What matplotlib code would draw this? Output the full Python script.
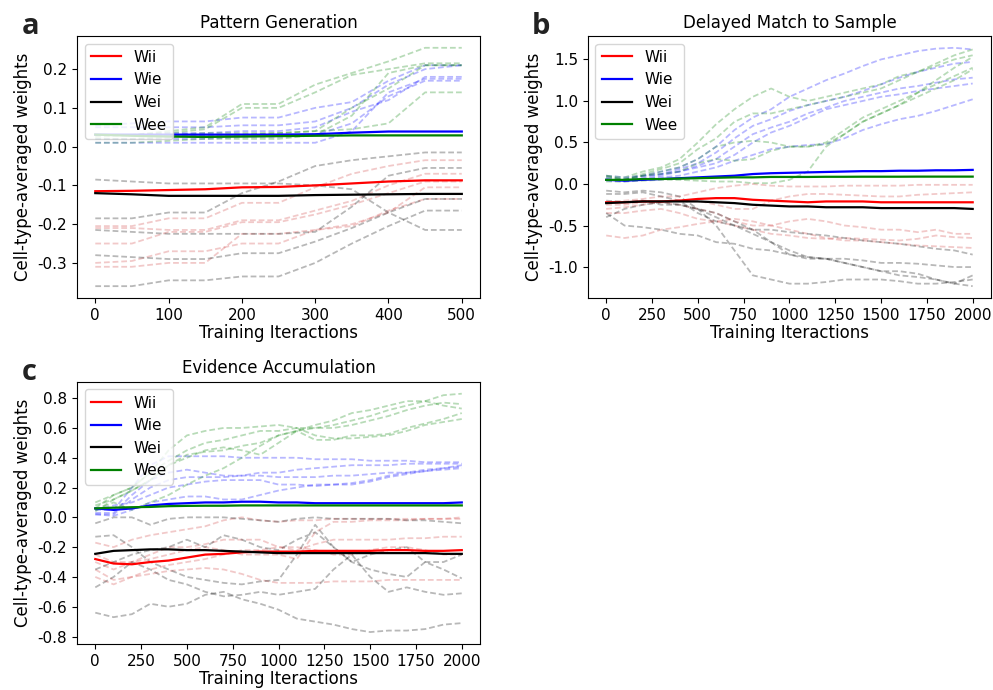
import numpy as np
import matplotlib
matplotlib.use("Agg")
import matplotlib.pyplot as plt

# ---------------- panel a: Pattern Generation ----------------
iters_a = [0, 50, 100, 150, 200, 250, 300, 350, 400, 450, 500]

wii_mean_a = [-0.115, -0.114, -0.112, -0.11, -0.105, -0.104, -0.1, -0.095, -0.09, -0.087, -0.087]
wie_mean_a = [0.031, 0.031, 0.031, 0.031, 0.031, 0.031, 0.032, 0.036, 0.039, 0.039, 0.039]
wei_mean_a = [-0.12, -0.123, -0.127, -0.127, -0.127, -0.127, -0.125, -0.124, -0.123, -0.122, -0.122]
wee_mean_a = [0.031, 0.028, 0.026, 0.025, 0.026, 0.027, 0.028, 0.029, 0.029, 0.029, 0.029]

wii_runs_a = [
    [-0.205, -0.205, -0.185, -0.185, -0.145, -0.145, -0.105, -0.07, -0.05, -0.035, -0.035],
    [-0.21, -0.21, -0.215, -0.215, -0.19, -0.19, -0.165, -0.14, -0.10, -0.07, -0.07],
    [-0.25, -0.25, -0.22, -0.22, -0.195, -0.195, -0.175, -0.15, -0.12, -0.09, -0.09],
    [-0.30, -0.295, -0.27, -0.27, -0.25, -0.25, -0.215, -0.20, -0.17, -0.105, -0.105],
    [-0.31, -0.31, -0.30, -0.30, -0.225, -0.225, -0.215, -0.205, -0.165, -0.135, -0.135],
]
wie_runs_a = [
    [0.055, 0.06, 0.065, 0.065, 0.075, 0.075, 0.10, 0.115, 0.17, 0.21, 0.21],
    [0.05, 0.05, 0.05, 0.05, 0.055, 0.055, 0.065, 0.10, 0.16, 0.20, 0.21],
    [0.03, 0.03, 0.035, 0.035, 0.04, 0.04, 0.05, 0.09, 0.12, 0.18, 0.18],
    [0.02, 0.02, 0.02, 0.02, 0.025, 0.025, 0.03, 0.06, 0.13, 0.17, 0.17],
    [0.01, 0.01, 0.01, 0.01, 0.01, 0.01, 0.01, 0.04, 0.14, 0.175, 0.175],
]
wei_runs_a = [
    [-0.085, -0.09, -0.095, -0.095, -0.095, -0.095, -0.10, -0.11, -0.17, -0.215, -0.215],
    [-0.185, -0.185, -0.17, -0.17, -0.12, -0.09, -0.05, -0.035, -0.025, -0.015, -0.015],
    [-0.215, -0.22, -0.225, -0.225, -0.225, -0.225, -0.22, -0.155, -0.075, -0.055, -0.055],
    [-0.28, -0.285, -0.29, -0.29, -0.275, -0.275, -0.245, -0.21, -0.17, -0.135, -0.135],
    [-0.36, -0.36, -0.345, -0.345, -0.335, -0.335, -0.30, -0.25, -0.205, -0.165, -0.165],
]
wee_runs_a = [
    [0.03, 0.03, 0.04, 0.05, 0.11, 0.11, 0.16, 0.19, 0.22, 0.255, 0.255],
    [0.025, 0.03, 0.035, 0.045, 0.10, 0.10, 0.14, 0.185, 0.20, 0.215, 0.215],
    [0.02, 0.02, 0.025, 0.03, 0.03, 0.035, 0.04, 0.10, 0.15, 0.21, 0.21],
    [0.03, 0.03, 0.03, 0.035, 0.035, 0.035, 0.04, 0.045, 0.06, 0.14, 0.14],
    [0.01, 0.01, 0.015, 0.02, 0.02, 0.02, 0.03, 0.08, 0.19, 0.21, 0.21],
]

# ---------------- panel b: Delayed Match to Sample ----------------
iters_b = list(range(0, 2001, 100))

wii_mean_b = [-0.22, -0.22, -0.21, -0.21, -0.2, -0.18, -0.17, -0.17, -0.19, -0.2, -0.21,
              -0.22, -0.21, -0.21, -0.21, -0.22, -0.22, -0.22, -0.22, -0.22, -0.22]
wie_mean_b = [0.05, 0.04, 0.05, 0.06, 0.07, 0.08, 0.09, 0.1, 0.12, 0.13, 0.135,
              0.14, 0.145, 0.15, 0.155, 0.155, 0.16, 0.16, 0.165, 0.165, 0.17]
wei_mean_b = [-0.23, -0.22, -0.21, -0.21, -0.21, -0.21, -0.22, -0.23, -0.25, -0.26, -0.27,
              -0.27, -0.28, -0.28, -0.28, -0.29, -0.29, -0.29, -0.29, -0.29, -0.3]
wee_mean_b = [0.05, 0.05, 0.06, 0.06, 0.065, 0.07, 0.075, 0.08, 0.08, 0.085, 0.085,
              0.085, 0.087, 0.087, 0.088, 0.088, 0.088, 0.089, 0.089, 0.089, 0.089]

wii_runs_b = [
    [-0.22, -0.2, -0.18, -0.15, -0.15, -0.1, -0.05, -0.02, 0.0, -0.02, -0.03,
     -0.03, -0.03, -0.02, -0.02, -0.02, -0.02, -0.01, -0.01, -0.01, -0.01],
    [-0.3, -0.28, -0.25, -0.22, -0.2, -0.2, -0.25, -0.3, -0.3, -0.2, -0.15,
     -0.12, -0.12, -0.13, -0.14, -0.15, -0.15, -0.13, -0.12, -0.11, -0.1],
    [-0.25, -0.25, -0.22, -0.22, -0.25, -0.3, -0.35, -0.45, -0.5, -0.5, -0.45,
     -0.42, -0.45, -0.5, -0.52, -0.55, -0.55, -0.58, -0.55, -0.6, -0.6],
    [-0.35, -0.35, -0.32, -0.3, -0.35, -0.42, -0.45, -0.5, -0.55, -0.6, -0.62,
     -0.65, -0.66, -0.65, -0.66, -0.67, -0.68, -0.66, -0.62, -0.64, -0.65],
    [-0.62, -0.65, -0.62, -0.55, -0.52, -0.48, -0.45, -0.42, -0.45, -0.5, -0.55,
     -0.6, -0.65, -0.68, -0.68, -0.7, -0.72, -0.74, -0.75, -0.76, -0.77],
]
wie_runs_b = [
    [0.08, 0.06, 0.1, 0.15, 0.2, 0.3, 0.45, 0.65, 0.8, 0.9, 1.05,
     1.15, 1.25, 1.33, 1.42, 1.5, 1.55, 1.6, 1.63, 1.64, 1.62],
    [0.05, 0.05, 0.08, 0.12, 0.18, 0.25, 0.38, 0.55, 0.7, 0.78, 0.88,
     0.95, 1.0, 1.05, 1.12, 1.2, 1.28, 1.35, 1.4, 1.45, 1.47],
    [0.06, 0.04, 0.06, 0.1, 0.15, 0.22, 0.3, 0.45, 0.6, 0.68, 0.75,
     0.85, 0.92, 1.0, 1.05, 1.1, 1.15, 1.18, 1.22, 1.26, 1.28],
    [0.1, 0.08, 0.1, 0.12, 0.15, 0.2, 0.25, 0.35, 0.5, 0.62, 0.7,
     0.8, 0.9, 0.95, 1.0, 1.05, 1.08, 1.12, 1.15, 1.18, 1.21],
    [0.04, 0.03, 0.05, 0.08, 0.1, 0.15, 0.2, 0.28, 0.35, 0.42, 0.45,
     0.47, 0.48, 0.55, 0.65, 0.72, 0.78, 0.82, 0.88, 0.95, 1.02],
]
wei_runs_b = [
    [-0.08, -0.1, -0.08, -0.1, -0.15, -0.3, -0.5, -0.8, -1.1, -1.15, -1.2,
     -1.2, -1.18, -1.15, -1.15, -1.15, -1.17, -1.2, -1.2, -1.18, -1.15],
    [-0.12, -0.12, -0.1, -0.15, -0.2, -0.35, -0.45, -0.5, -0.6, -0.7, -0.8,
     -0.88, -0.9, -0.95, -1.0, -1.05, -1.1, -1.12, -1.15, -1.2, -1.23],
    [-0.2, -0.22, -0.2, -0.25, -0.25, -0.3, -0.35, -0.45, -0.55, -0.7, -0.85,
     -0.9, -0.9, -0.9, -0.92, -0.95, -0.95, -0.96, -0.98, -1.0, -1.0],
    [-0.35, -0.5, -0.52, -0.55, -0.6, -0.62, -0.7, -0.72, -0.78, -0.8, -0.85,
     -0.88, -0.9, -0.95, -1.0, -1.05, -1.05, -1.08, -1.15, -1.2, -1.1],
    [-0.4, -0.3, -0.25, -0.22, -0.25, -0.3, -0.4, -0.5, -0.55, -0.55, -0.58,
     -0.6, -0.62, -0.65, -0.68, -0.7, -0.72, -0.75, -0.78, -0.8, -0.85],
]
wee_runs_b = [
    [0.1, 0.08, 0.15, 0.2, 0.3, 0.5, 0.72, 0.9, 1.05, 1.15, 1.05,
     1.0, 1.05, 1.1, 1.15, 1.2, 1.3, 1.35, 1.42, 1.5, 1.55],
    [0.08, 0.06, 0.12, 0.18, 0.25, 0.42, 0.55, 0.75, 0.85, 0.85, 0.9,
     0.95, 1.0, 1.05, 1.1, 1.15, 1.25, 1.35, 1.45, 1.55, 1.62],
    [0.05, 0.05, 0.1, 0.15, 0.2, 0.3, 0.45, 0.5, 0.52, 0.5, 0.45,
     0.45, 0.5, 0.65, 0.8, 0.9, 1.0, 1.1, 1.2, 1.3, 1.4],
    [0.1, 0.05, 0.1, 0.12, 0.15, 0.25, 0.3, 0.28, 0.3, 0.4, 0.45,
     0.45, 0.48, 0.6, 0.75, 0.85, 0.95, 1.05, 1.15, 1.25, 1.38],
    [0.03, 0.03, 0.04, 0.05, 0.05, 0.04, 0.03, 0.03, 0.01, 0.01, 0.05,
     0.15, 0.45, 0.6, 0.75, 0.85, 0.95, 1.1, 1.25, 1.4, 1.53],
]

# ---------------- panel c: Evidence Accumulation ----------------
iters_c = list(range(0, 2001, 100))

wii_mean_c = [-0.28, -0.31, -0.315, -0.3, -0.29, -0.27, -0.25, -0.245, -0.235, -0.23, -0.23,
              -0.23, -0.225, -0.225, -0.225, -0.225, -0.22, -0.22, -0.225, -0.225, -0.22]
wie_mean_c = [0.06, 0.05, 0.06, 0.08, 0.09, 0.095, 0.1, 0.1, 0.105, 0.105, 0.1,
              0.1, 0.095, 0.095, 0.095, 0.095, 0.095, 0.095, 0.095, 0.095, 0.1]
wei_mean_c = [-0.245, -0.225, -0.22, -0.215, -0.215, -0.22, -0.22, -0.225, -0.23, -0.235, -0.24,
              -0.24, -0.24, -0.24, -0.24, -0.24, -0.24, -0.24, -0.24, -0.245, -0.245]
wee_mean_c = [0.06, 0.065, 0.068, 0.07, 0.075, 0.077, 0.078, 0.078, 0.08, 0.08, 0.08,
              0.08, 0.08, 0.08, 0.08, 0.08, 0.08, 0.08, 0.08, 0.08, 0.08]

wii_runs_c = [
    [-0.17, -0.2, -0.15, -0.12, -0.1, -0.08, -0.06, -0.02, 0.0, -0.02, -0.03,
     -0.02, -0.02, -0.01, -0.01, -0.01, -0.01, -0.01, -0.01, -0.01, -0.01],
    [-0.25, -0.3, -0.3, -0.25, -0.2, -0.2, -0.18, -0.15, -0.15, -0.15, -0.2,
     -0.22, -0.18, -0.15, -0.15, -0.15, -0.15, -0.14, -0.14, -0.13, -0.13],
    [-0.3, -0.35, -0.3, -0.28, -0.25, -0.22, -0.2, -0.22, -0.25, -0.25, -0.25,
     -0.28, -0.1, -0.03, -0.03, -0.02, -0.02, -0.02, -0.01, -0.01, 0.0],
    [-0.4, -0.45, -0.4, -0.38, -0.36, -0.35, -0.34, -0.35, -0.38, -0.42, -0.44,
     -0.44, -0.44, -0.43, -0.43, -0.43, -0.42, -0.42, -0.42, -0.42, -0.42],
    [-0.35, -0.42, -0.4, -0.35, -0.32, -0.3, -0.28, -0.25, -0.22, -0.22, -0.2,
     -0.2, -0.22, -0.25, -0.25, -0.22, -0.2, -0.2, -0.22, -0.25, -0.25],
]
wie_runs_c = [
    [0.05, 0.05, 0.2, 0.35, 0.41, 0.41, 0.41, 0.41, 0.4, 0.4, 0.4,
     0.4, 0.39, 0.39, 0.39, 0.38, 0.38, 0.38, 0.37, 0.37, 0.37],
    [0.03, 0.03, 0.15, 0.25, 0.3, 0.32, 0.3, 0.28, 0.28, 0.3, 0.3,
     0.32, 0.33, 0.34, 0.35, 0.35, 0.35, 0.36, 0.36, 0.36, 0.36],
    [0.02, 0.02, 0.12, 0.2, 0.25, 0.27, 0.27, 0.27, 0.28, 0.28, 0.27,
     0.27, 0.27, 0.28, 0.28, 0.29, 0.3, 0.3, 0.31, 0.33, 0.35],
    [0.05, 0.08, 0.1, 0.15, 0.2, 0.22, 0.24, 0.25, 0.25, 0.25, 0.22,
     0.22, 0.21, 0.22, 0.22, 0.24, 0.27, 0.29, 0.31, 0.32, 0.33],
    [0.02, 0.01, 0.05, 0.1, 0.12, 0.14, 0.14, 0.12, 0.12, 0.15, 0.18,
     0.2, 0.22, 0.22, 0.23, 0.25, 0.28, 0.3, 0.32, 0.33, 0.34],
]
wei_runs_c = [
    [-0.04, 0.0, 0.0, -0.05, -0.01, 0.0, 0.0, 0.0, -0.01, -0.02, -0.03,
     -0.01, 0.0, -0.01, -0.01, -0.01, -0.01, -0.02, -0.02, -0.03, -0.04],
    [-0.13, -0.12, -0.2, -0.3, -0.35, -0.4, -0.42, -0.44, -0.45, -0.43, -0.42,
     -0.25, -0.05, -0.2, -0.3, -0.35, -0.38, -0.4, -0.3, -0.35, -0.41],
    [-0.35, -0.3, -0.25, -0.22, -0.2, -0.15, -0.2, -0.12, -0.15, -0.2, -0.22,
     -0.15, -0.1, -0.2, -0.3, -0.25, -0.22, -0.2, -0.3, -0.3, -0.25],
    [-0.47, -0.4, -0.3, -0.35, -0.42, -0.45, -0.5, -0.53, -0.52, -0.5, -0.52,
     -0.5, -0.48, -0.35, -0.25, -0.4, -0.5, -0.47, -0.5, -0.52, -0.51],
    [-0.64, -0.67, -0.65, -0.58, -0.6, -0.58, -0.52, -0.5, -0.55, -0.58, -0.62,
     -0.68, -0.7, -0.72, -0.75, -0.77, -0.76, -0.76, -0.75, -0.72, -0.71],
]
wee_runs_c = [
    [0.1, 0.15, 0.2, 0.3, 0.45, 0.55, 0.58, 0.6, 0.6, 0.61, 0.62,
     0.6, 0.55, 0.53, 0.53, 0.54, 0.55, 0.58, 0.62, 0.64, 0.66],
    [0.08, 0.12, 0.18, 0.25, 0.35, 0.4, 0.45, 0.47, 0.45, 0.42, 0.5,
     0.58, 0.6, 0.62, 0.65, 0.68, 0.72, 0.75, 0.78, 0.75, 0.73],
    [0.05, 0.1, 0.05, 0.1, 0.15, 0.22, 0.28, 0.33, 0.4, 0.48, 0.55,
     0.58, 0.62, 0.65, 0.7, 0.72, 0.75, 0.78, 0.78, 0.82, 0.83],
    [0.06, 0.15, 0.2, 0.3, 0.38, 0.45, 0.5, 0.52, 0.55, 0.58, 0.58,
     0.6, 0.6, 0.6, 0.62, 0.65, 0.68, 0.72, 0.75, 0.77, 0.76],
    [0.04, 0.12, 0.18, 0.25, 0.35, 0.42, 0.44, 0.45, 0.48, 0.5, 0.55,
     0.58, 0.52, 0.52, 0.55, 0.55, 0.56, 0.6, 0.63, 0.66, 0.70],
]

labels = ["Wii", "Wie", "Wei", "Wee"]
colors = ["red", "blue", "black", "green"]
# faded colours of the single runs
run_colors = ["#d04040", "blue", "black", "green"]

yticks_a = [-0.3, -0.2, -0.1, 0.0, 0.1, 0.2]
yticks_b = [-1.0, -0.5, 0.0, 0.5, 1.0, 1.5]
yticks_c = [-0.8, -0.6, -0.4, -0.2, 0.0, 0.2, 0.4, 0.6, 0.8]

panels = [
    ("a", "Pattern Generation", iters_a,
     [wii_mean_a, wie_mean_a, wei_mean_a, wee_mean_a],
     [wii_runs_a, wie_runs_a, wei_runs_a, wee_runs_a],
     [0.0775, 0.568, 0.406, 0.380], [0, 100, 200, 300, 400, 500], yticks_a),
    ("b", "Delayed Match to Sample", iters_b,
     [wii_mean_b, wie_mean_b, wei_mean_b, wee_mean_b],
     [wii_runs_b, wie_runs_b, wei_runs_b, wee_runs_b],
     [0.592, 0.568, 0.406, 0.380], list(range(0, 2001, 250)), yticks_b),
    ("c", "Evidence Accumulation", iters_c,
     [wii_mean_c, wie_mean_c, wei_mean_c, wee_mean_c],
     [wii_runs_c, wie_runs_c, wei_runs_c, wee_runs_c],
     [0.0775, 0.0667, 0.406, 0.380], list(range(0, 2001, 250)), yticks_c),
]

fig = plt.figure(figsize=(9.93, 6.9), dpi=100)

for letter, title, xs, means, runs, rect, xticks, yticks in panels:
    ax = fig.add_axes(rect)
    # individual runs, faded and dashed
    for group, c in zip(runs, run_colors):
        for run in group:
            ax.plot(xs, run, linestyle=(0, (3.2, 1.6)), color=c, alpha=0.28, lw=1.3)
    # cell-type averages
    for m, c, lab in zip(means, colors, labels):
        ax.plot(xs, m, color=c, lw=1.6, label=lab)
    ax.set_title(title, fontsize=12)
    ax.set_xlabel("Training Iteractions", fontsize=12, labelpad=1)
    ax.set_ylabel("Cell-type-averaged weights", fontsize=12)
    ax.set_xticks(xticks)
    ax.set_yticks(yticks)
    ax.yaxis.set_major_formatter(plt.FormatStrFormatter("%.1f"))
    ax.tick_params(labelsize=11)
    ax.legend(loc="upper left", fontsize=11)
    bb = ax.get_position()
    fig.text(bb.x0 - 0.056, bb.y1 + 0.003, letter, fontsize=21, fontweight="bold",
             family="Open Sans", color="#222222")

fig.savefig("out.png", dpi=100)
